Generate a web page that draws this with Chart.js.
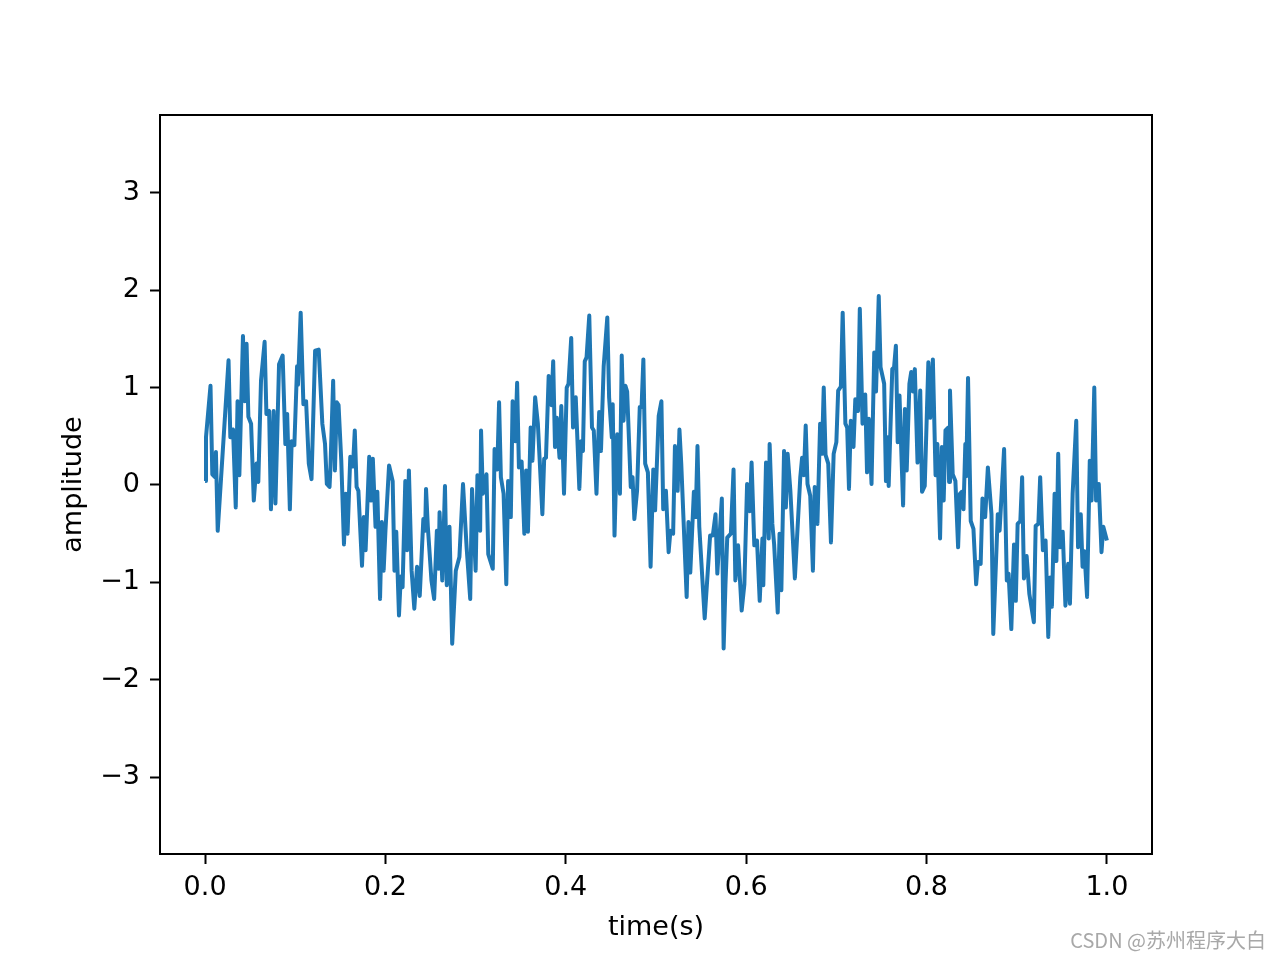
<!DOCTYPE html>
<html>
<head>
<meta charset="utf-8">
<script src="https://cdn.jsdelivr.net/npm/chart.js@4.4.1/dist/chart.umd.min.js"></script>
<style>
    body { margin: 0; background: #fff; }
    #wrap { position: relative; width: 1280px; height: 960px; }
    #watermark {
        position: absolute; right: 14px; top: 925px;
        font-family: "Noto Sans CJK SC", "Noto Sans", sans-serif;
        font-size: 20px; color: #a8a8a8;
    }
</style>
</head>
<body>
<div id="wrap">
    <canvas id="signalChart" width="1280" height="960"></canvas>
    <div id="watermark">CSDN @苏州程序大白</div>
</div>
<script>
// Values
const times = [
    0.000, 0.001, 0.006, 0.008, 0.011, 0.012, 0.014, 0.026, 0.028, 0.031,
    0.034, 0.036, 0.038, 0.042, 0.044, 0.046, 0.048, 0.051, 0.054, 0.057,
    0.059, 0.062, 0.066, 0.068, 0.071, 0.073, 0.076, 0.078, 0.082, 0.086,
    0.089, 0.091, 0.094, 0.096, 0.099, 0.102, 0.103, 0.106, 0.109, 0.112,
    0.115, 0.118, 0.122, 0.126, 0.130, 0.133, 0.135, 0.138, 0.139, 0.142,
    0.144, 0.146, 0.148, 0.151, 0.154, 0.156, 0.158, 0.161, 0.164, 0.166,
    0.168, 0.170, 0.174, 0.176, 0.178, 0.182, 0.184, 0.186, 0.189, 0.191,
    0.194, 0.196, 0.198, 0.200, 0.204, 0.208, 0.210, 0.212, 0.215, 0.217,
    0.219, 0.222, 0.224, 0.226, 0.229, 0.232, 0.235, 0.238, 0.242, 0.244,
    0.245, 0.247, 0.251, 0.254, 0.257, 0.259, 0.260, 0.263, 0.266, 0.268,
    0.271, 0.274, 0.278, 0.282, 0.286, 0.290, 0.294, 0.296, 0.300, 0.302,
    0.305, 0.306, 0.308, 0.312, 0.314, 0.319, 0.321, 0.324, 0.326, 0.328,
    0.331, 0.334, 0.336, 0.339, 0.341, 0.344, 0.346, 0.348, 0.351, 0.354,
    0.356, 0.358, 0.361, 0.363, 0.366, 0.369, 0.374, 0.376, 0.378, 0.381,
    0.384, 0.386, 0.388, 0.390, 0.393, 0.395, 0.398, 0.401, 0.403, 0.406,
    0.408, 0.411, 0.415, 0.417, 0.419, 0.421, 0.423, 0.426, 0.429, 0.431,
    0.434, 0.437, 0.439, 0.442, 0.446, 0.448, 0.451, 0.452, 0.454, 0.457,
    0.460, 0.462, 0.464, 0.466, 0.468, 0.472, 0.474, 0.476, 0.479, 0.482,
    0.484, 0.486, 0.488, 0.491, 0.494, 0.497, 0.499, 0.503, 0.506, 0.508,
    0.511, 0.514, 0.516, 0.519, 0.521, 0.524, 0.526, 0.528, 0.534, 0.536,
    0.538, 0.542, 0.544, 0.546, 0.548, 0.554, 0.560, 0.563, 0.566, 0.568,
    0.573, 0.575, 0.577, 0.579, 0.583, 0.586, 0.588, 0.591, 0.595, 0.598,
    0.601, 0.604, 0.606, 0.609, 0.612, 0.615, 0.618, 0.619, 0.622, 0.625,
    0.626, 0.629, 0.631, 0.635, 0.637, 0.639, 0.642, 0.644, 0.646, 0.649,
    0.654, 0.660, 0.662, 0.664, 0.666, 0.668, 0.671, 0.674, 0.676, 0.679,
    0.682, 0.684, 0.686, 0.688, 0.691, 0.694, 0.697, 0.700, 0.702, 0.705,
    0.707, 0.710, 0.712, 0.714, 0.716, 0.719, 0.721, 0.724, 0.726, 0.729,
    0.732, 0.734, 0.736, 0.739, 0.742, 0.744, 0.747, 0.749, 0.753, 0.755,
    0.757, 0.758, 0.762, 0.764, 0.766, 0.768, 0.770, 0.774, 0.776, 0.778,
    0.781, 0.783, 0.785, 0.787, 0.790, 0.793, 0.795, 0.798, 0.802, 0.804,
    0.807, 0.810, 0.812, 0.815, 0.817, 0.819, 0.821, 0.824, 0.825, 0.826,
    0.829, 0.832, 0.835, 0.837, 0.839, 0.841, 0.843, 0.844, 0.846, 0.849,
    0.852, 0.855, 0.857, 0.860, 0.862, 0.865, 0.868, 0.872, 0.874, 0.879,
    0.881, 0.886, 0.889, 0.891, 0.894, 0.897, 0.899, 0.901, 0.904, 0.906,
    0.908, 0.911, 0.914, 0.919, 0.921, 0.924, 0.926, 0.929, 0.932, 0.935,
    0.937, 0.939, 0.942, 0.944, 0.946, 0.948, 0.951, 0.954, 0.957, 0.959,
    0.962, 0.966, 0.968, 0.971, 0.973, 0.975, 0.978, 0.981, 0.983, 0.986,
    0.988, 0.991, 0.994, 0.996, 1.000
];

const amplitude = [
    0.04, 0.49, 1.02, 0.11, 0.08, 0.34, -0.47, 1.28, 0.49, 0.57,
    -0.23, 0.86, 0.10, 1.53, 0.86, 1.45, 0.70, 0.63, -0.16, 0.22,
    0.03, 1.07, 1.47, 0.73, 0.76, -0.25, 0.76, -0.19, 1.24, 1.33,
    0.42, 0.73, -0.25, 0.45, 0.41, 1.22, 1.03, 1.77, 0.83, 0.86,
    0.22, 0.06, 1.38, 1.39, 0.63, 0.42, 0.01, -0.02, 0.18, 1.07,
    0.15, 0.85, 0.82, 0.25, -0.61, -0.09, -0.50, 0.29, 0.19, 0.56,
    -0.02, -0.06, -0.83, -0.33, -0.67, 0.29, -0.16, 0.27, -0.43, -0.07,
    -1.17, -0.38, -0.88, -0.47, 0.20, 0.04, -0.88, -0.48, -1.34, -0.94,
    -1.05, 0.04, -0.67, 0.15, -0.88, -1.27, -0.84, -1.14, -0.35, -0.47,
    -0.04, -0.43, -0.98, -1.17, -0.47, -0.86, -0.28, -0.98, -0.01, -1.03,
    -0.43, -1.63, -0.88, -0.74, 0.01, -0.64, -1.17, -0.04, -0.88, 0.10,
    -0.47, 0.56, -0.09, 0.11, -0.71, -0.86, 0.37, 0.16, 0.85, 0.08,
    -0.09, -1.02, 0.04, -0.33, 0.86, 0.45, 1.05, 0.18, 0.24, -0.50,
    0.15, -0.48, 0.59, 0.25, 0.90, 0.63, -0.30, 0.27, 0.28, 1.12,
    0.82, 1.27, 0.39, 0.69, 0.28, 0.81, -0.09, 1.00, 1.04, 1.51,
    0.59, 0.90, -0.04, 0.45, 0.35, 1.27, 1.31, 1.74, 0.59, 0.56,
    -0.09, 0.75, 0.35, 1.22, 1.72, 0.90, 0.49, 0.83, -0.52, 0.52,
    -0.09, 1.33, 0.66, 1.02, 0.96, -0.02, 0.08, -0.35, -0.06, 0.80,
    0.80, 1.29, 0.22, 0.13, -0.84, 0.16, -0.26, 0.71, 0.86, -0.25,
    -0.06, -0.69, -0.47, -0.50, 0.40, -0.06, 0.57, 0.22, -1.15, -0.38,
    -0.90, -0.07, -0.33, 0.40, -0.43, -1.37, -0.52, -0.52, -0.30, -0.91,
    -0.14, -1.68, -1.03, -0.54, -0.50, 0.16, -0.98, -0.62, -1.29, -1.02,
    0.01, -0.27, 0.23, -0.62, -0.57, -1.19, -0.55, -1.03, 0.23, -0.55,
    0.42, -0.40, -0.61, -1.31, -0.50, -1.08, 0.35, -0.23, 0.32, -0.06,
    -0.96, 0.08, 0.28, 0.10, 0.61, 0.01, -0.11, -0.88, -0.02, -0.40,
    0.63, 0.32, 1.00, 0.31, 0.22, -0.59, 0.32, 0.44, 0.97, 1.01,
    1.77, 0.63, 0.59, -0.04, 0.66, 0.39, 0.88, 0.76, 1.81, 0.63,
    0.93, 0.13, 0.68, 0.01, 1.36, 0.96, 1.94, 1.21, 1.04, 0.04,
    0.49, -0.01, 1.19, 1.21, 1.43, 0.44, 0.92, -0.21, 0.78, 0.15,
    1.04, 1.16, 0.96, 1.19, 0.23, 0.97, -0.07, -0.01, 1.26, 0.69,
    1.29, 0.10, 0.42, -0.55, 0.39, -0.16, 0.56, 0.59, 0.03, 0.97,
    0.11, 0.04, -0.64, -0.09, -0.07, -0.25, 0.42, 0.09, 1.10, -0.37,
    -0.45, -1.02, -0.79, -0.81, -0.14, -0.33, 0.18, -0.30, -1.53, -0.30,
    -0.47, 0.37, -0.98, -0.91, -1.48, -0.61, -1.19, -0.40, -0.37, 0.08,
    -0.96, -0.73, -1.12, -1.41, -0.42, -0.40, 0.08, -0.67, -0.57, -1.56,
    -0.95, -1.25, -0.09, -0.78, 0.32, -0.64, -0.48, -1.24, -0.81, -1.22,
    -0.09, 0.66, -0.64, -0.30, -0.84, -0.68, -1.15, 0.25, -0.16, 1.00,
    -0.16, 0.01, -0.69, -0.43, -0.57
];

const xTicks = [0, 0.2, 0.4, 0.6, 0.8, 1.0];
const yTicks = [-3, -2, -1, 0, 1, 2, 3];

const points = times.map((t, i) => ({ x: t, y: amplitude[i] }));

// matplotlib style frame on all four sides
const framePlugin = {
    id: 'frame',
    afterDraw(chart) {
        const { ctx, chartArea } = chart;
        ctx.save();
        ctx.strokeStyle = '#000';
        ctx.lineWidth = 2;
        ctx.strokeRect(chartArea.left, chartArea.top,
            chartArea.right - chartArea.left, chartArea.bottom - chartArea.top);
        ctx.restore();
    }
};

const font = { family: '"DejaVu Sans", sans-serif', size: 27 };

new Chart(document.getElementById('signalChart'), {
    type: 'line',
    data: {
        datasets: [{
            data: points,
            borderColor: '#1f77b4',
            borderWidth: 4,
            borderJoinStyle: 'round',
            pointRadius: 0,
            tension: 0,
            fill: false
        }]
    },
    options: {
        responsive: false,
        animation: false,
        layout: { padding: { top: 115, right: 128, left: 0, bottom: 0 } },
        plugins: {
            legend: { display: false },
            tooltip: { enabled: false }
        },
        scales: {
            x: {
                type: 'linear',
                min: -0.05,
                max: 1.05,
                afterBuildTicks: (axis) => { axis.ticks = xTicks.map(v => ({ value: v })); },
                afterFit: (axis) => { axis.height = 106; },
                grid: { drawOnChartArea: false, tickLength: 10, tickWidth: 2, tickColor: '#000' },
                border: { display: false },
                ticks: {
                    color: '#000',
                    font: font,
                    padding: 8,
                    maxRotation: 0,
                    callback: (v) => v.toFixed(1)
                },
                title: {
                    display: true,
                    text: 'time(s)',
                    color: '#000',
                    font: font,
                    padding: { top: 0, bottom: 16 }
                }
            },
            y: {
                min: -3.79,
                max: 3.8,
                afterBuildTicks: (axis) => { axis.ticks = yTicks.map(v => ({ value: v })); },
                afterFit: (axis) => { axis.width = 160; },
                grid: { drawOnChartArea: false, tickLength: 10, tickWidth: 2, tickColor: '#000' },
                border: { display: false },
                ticks: {
                    color: '#000',
                    font: font,
                    padding: 10,
                    callback: (v) => v < 0 ? '\u2212' + Math.abs(v) : String(v)
                },
                title: {
                    display: true,
                    text: 'amplitude',
                    color: '#000',
                    font: font,
                    padding: { top: 58, bottom: 0 }
                }
            }
        }
    },
    plugins: [framePlugin]
});
</script>
</body>
</html>
